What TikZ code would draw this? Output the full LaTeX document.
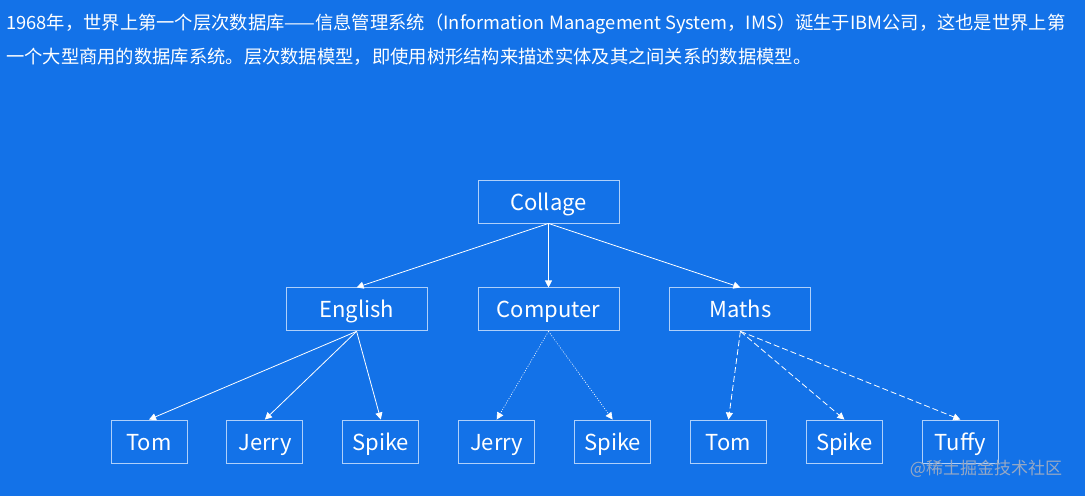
\documentclass[tikz,border=0pt]{standalone}
\usepackage{fontspec}
\newfontfamily\cjk{Noto Sans CJK SC}
\usepackage{tikz}
\usetikzlibrary{arrows.meta, positioning}
\usepackage{xcolor}
\definecolor{bgblue}{RGB}{19,114,232}
\definecolor{edgeblue}{RGB}{175,208,250}
\definecolor{markgray}{RGB}{150,168,196}
\tikzset{
  basebox/.style={
    rectangle, draw=edgeblue, line width=0.9pt, text=white, align=center,
    minimum height=43pt, inner sep=0pt, text height=19pt, text depth=2pt,
    font=\cjk\fontsize{22}{26}\selectfont
  },
  levelbox/.style={basebox, minimum width=141pt},
  leafbox/.style={basebox, minimum width=76pt},
  arrow/.style={-{Triangle[length=7pt,width=7pt]}, line width=0.8pt, color=white},
  dottedarrow/.style={arrow, line width=0.6pt, dash pattern=on 1pt off 1.5pt},
  dashedarrow/.style={arrow, dash pattern=on 6pt off 3pt}
}
\begin{document}
\begin{tikzpicture}[x=1pt, y=1pt, node distance=64pt and 50pt]
  \fill[bgblue] (0,0) rectangle (1085,-496);
  \useasboundingbox (0,0) rectangle (1085,-496);

  % intro text
  \node[anchor=north west, align=left, text=white, inner sep=0pt,
        font=\cjk\fontsize{18.3}{34}\selectfont] (intro) at (6,-14)
    {1968年，世界上第一个层次数据库——信息管理系统（Information Management System，IMS）诞生于IBM公司，这也是世界上第\\
     一个大型商用的数据库系统。层次数据模型，即使用树形结构来描述实体及其之间关系的数据模型。};

  % tree
  \node[levelbox] (collage) at (548.5,-201.5) {Collage};
  \node[levelbox, below=of collage] (computer) {Computer};
  \node[levelbox, left=of computer] (english) {English};
  \node[levelbox, right=of computer] (maths) {Maths};

  % leaves
  \node[leafbox] (tom1) at (149,-441.5) {Tom};
  \node[leafbox, right=39pt of tom1] (jerry1) {Jerry};
  \node[leafbox, right=39pt of jerry1] (spike1) {Spike};
  \node[leafbox, right=39pt of spike1] (jerry2) {Jerry};
  \node[leafbox, right=39pt of jerry2] (spike2) {Spike};
  \node[leafbox, right=39pt of spike2] (tom2) {Tom};
  \node[leafbox, right=39pt of tom2] (spike3) {Spike};
  \node[leafbox, right=39pt of spike3] (tuffy) {Tuffy};

  % watermark
  \node[text=markgray, inner sep=0pt, font=\cjk\fontsize{17}{20}\selectfont]
    (mark) at (986,-469) {@稀土掘金技术社区};

  \draw[arrow] (collage.south) -- (english.north);
  \draw[arrow] (collage.south) -- (computer.north);
  \draw[arrow] (collage.south) -- (maths.north);
  \draw[arrow] (english.south) -- (tom1.north);
  \draw[arrow] (english.south) -- (jerry1.north);
  \draw[arrow] (english.south) -- (spike1.north);
  \draw[dottedarrow] (computer.south) -- (jerry2.north);
  \draw[dottedarrow] (computer.south) -- (spike2.north);
  \draw[dashedarrow] (maths.south) -- (tom2.north);
  \draw[dashedarrow] (maths.south) -- (spike3.north);
  \draw[dashedarrow] (maths.south) -- (tuffy.north);
\end{tikzpicture}
\end{document}
